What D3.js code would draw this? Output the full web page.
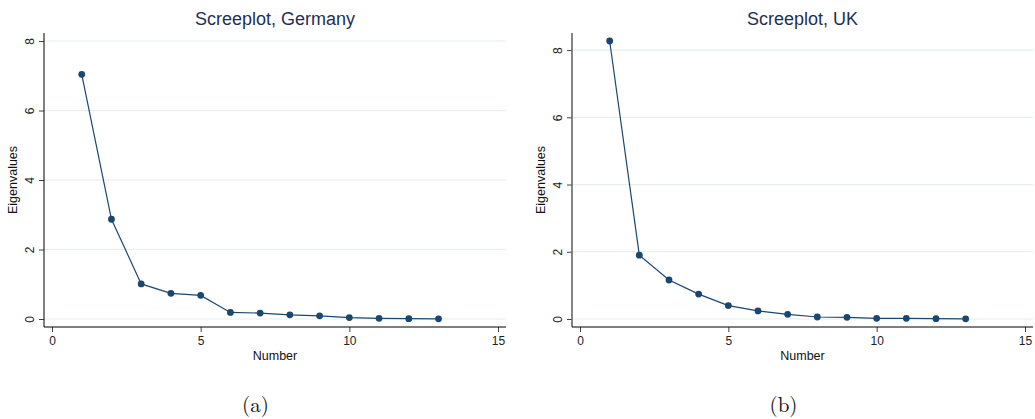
<!DOCTYPE html>
<html>
<head>
<meta charset="utf-8">
<script src="https://cdn.jsdelivr.net/npm/d3@7"></script>
<style>
  html, body { margin: 0; padding: 0; background: #ffffff; }
  svg { display: block; }
</style>
</head>
<body>
<svg id="chart" width="1035" height="419"></svg>
<script>
// ---- data ----
const componentNumber = [1, 2, 3, 4, 5, 6, 7, 8, 9, 10, 11, 12, 13];
const eigenGermany = [7.04, 2.87, 1.01, 0.74, 0.68, 0.19, 0.17, 0.12, 0.09, 0.04, 0.02, 0.01, 0.005];
const eigenUK = [8.27, 1.90, 1.16, 0.74, 0.40, 0.24, 0.14, 0.06, 0.05, 0.02, 0.02, 0.01, 0.005];
const xTickValues = [0, 5, 10, 15];
const yTickValues = [0, 2, 4, 6, 8];
const panelTitles = ["Screeplot, Germany", "Screeplot, UK"];
const panelCaptions = ["(a)", "(b)"];
const xAxisTitle = "Number";
const yAxisTitle = "Eigenvalues";

// ---- layout ----
const panels = [
  { values: eigenGermany, title: panelTitles[0], caption: panelCaptions[0], left: 44, right: 506, captionX: 255.5, yAxisColor: "#000", yAxisWidth: 1 },
  { values: eigenUK, title: panelTitles[1], caption: panelCaptions[1], left: 572, right: 1033, captionX: 783.5, yAxisColor: "#666", yAxisWidth: 1.6 }
];
const plotTop = 33, plotBottom = 327, pad = 8;
const navy = "#1a476f";
const sans = "'Liberation Sans', Arial, Helvetica, sans-serif";

const svg = d3.select("#chart");

panels.forEach(p => {
  const g = svg.append("g");
  const dataMax = d3.max(p.values);
  const x = d3.scaleLinear().domain([0, 15]).range([p.left + pad, p.right - pad]);
  const y = d3.scaleLinear().domain([0, Math.max(8, dataMax)]).range([plotBottom - pad, plotTop + pad]);

  // gridlines
  g.append("g").selectAll("line").data(yTickValues).join("line")
    .attr("x1", p.left).attr("x2", p.right)
    .attr("y1", d => y(d)).attr("y2", d => y(d))
    .attr("stroke", "#e6eef0").attr("stroke-width", 1.2);

  // x axis
  const xAxis = d3.axisBottom(x).tickValues(xTickValues).tickSize(5).tickPadding(3).tickFormat(d3.format("d"));
  const gx = g.append("g").attr("transform", `translate(0,${plotBottom})`).call(xAxis);
  gx.select(".domain").remove();
  gx.selectAll(".tick line").attr("stroke", "#444");
  gx.selectAll(".tick text").attr("font-family", sans).attr("font-size", 12).attr("fill", "#222")
    .attr("y", 0).attr("dy", 0).attr("transform", "translate(0,18)");

  // y axis
  const yAxis = d3.axisLeft(y).tickValues(yTickValues).tickSize(5).tickFormat(d3.format("d"));
  const gy = g.append("g").attr("transform", `translate(${p.left},0)`).call(yAxis);
  gy.select(".domain").remove();
  gy.selectAll(".tick line").attr("stroke", "#444");
  gy.selectAll(".tick text").attr("font-family", sans).attr("font-size", 12).attr("fill", "#222")
    .attr("x", 0).attr("dy", 0).attr("text-anchor", "middle")
    .attr("transform", "translate(-10.4,0) rotate(-90)");

  // axis lines
  g.append("line").attr("x1", p.left).attr("x2", p.left).attr("y1", plotTop).attr("y2", plotBottom)
    .attr("stroke", p.yAxisColor).attr("stroke-width", p.yAxisWidth);
  g.append("line").attr("x1", p.left).attr("x2", p.right).attr("y1", plotBottom).attr("y2", plotBottom)
    .attr("stroke", "#000").attr("stroke-width", 1.2);

  // line + markers
  const pts = componentNumber.map((c, i) => [c, p.values[i]]);
  g.append("path").datum(pts)
    .attr("fill", "none").attr("stroke", navy).attr("stroke-width", 1.2)
    .attr("d", d3.line().x(d => x(d[0])).y(d => y(d[1])));
  g.append("g").selectAll("circle").data(pts).join("circle")
    .attr("cx", d => x(d[0])).attr("cy", d => y(d[1])).attr("r", 3.4)
    .attr("fill", navy);

  // titles
  const cx = (p.left + p.right) / 2;
  g.append("text").attr("x", cx).attr("y", 25).attr("text-anchor", "middle")
    .attr("font-family", sans).attr("font-size", 18).attr("fill", "#1f2f55").text(p.title);
  g.append("text").attr("x", cx).attr("y", 360).attr("text-anchor", "middle")
    .attr("font-family", sans).attr("font-size", 12.5).attr("fill", "#111").text(xAxisTitle);
  g.append("text").attr("transform", `translate(${p.left - 27},${(plotTop + plotBottom) / 2}) rotate(-90)`)
    .attr("text-anchor", "middle")
    .attr("font-family", sans).attr("font-size", 12.5).attr("fill", "#111").text(yAxisTitle);

  // caption
  g.append("text").attr("x", p.captionX).attr("y", 412).attr("text-anchor", "middle")
    .attr("font-family", "'Latin Modern Roman','CMU Serif','Liberation Serif','DejaVu Serif',serif")
    .attr("font-size", 21).attr("fill", "#111").text(p.caption);
});
</script>
</body>
</html>
